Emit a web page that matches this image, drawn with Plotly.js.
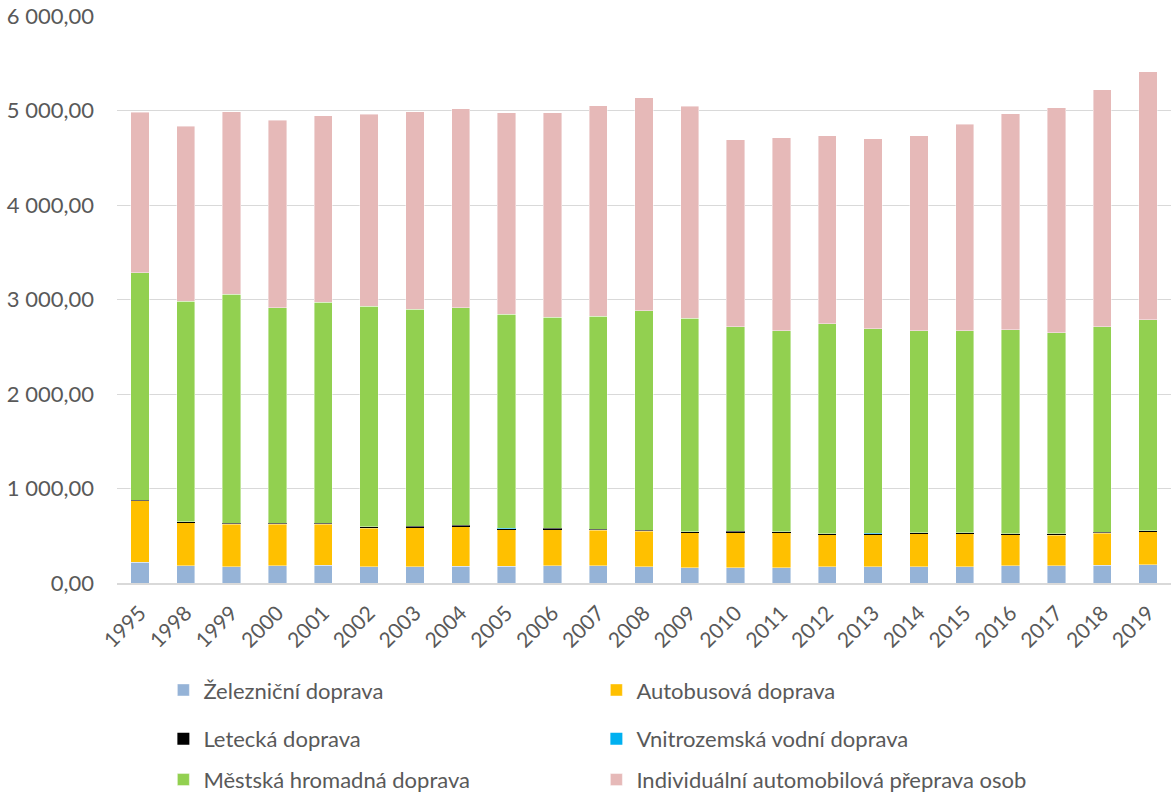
<!DOCTYPE html>
<html>
<head>
<meta charset="utf-8">
<script src="https://cdn.plot.ly/plotly-3.0.1.min.js"></script>
<style>
  html, body { margin: 0; padding: 0; background: #ffffff; }
  #chart { width: 1171px; height: 794px; }
</style>
</head>
<body>
<div id="chart"></div>
<script>
// Years on the category axis
const years = ['1995', '1998', '1999', '2000', '2001', '2002', '2003', '2004', '2005', '2006', '2007', '2008',
               '2009', '2010', '2011', '2012', '2013', '2014', '2015', '2016', '2017', '2018', '2019'];

// Passenger transport performance by mode (stacked)
const rail  = [222, 180, 174, 180, 187, 174, 170, 177, 177, 180, 180, 174, 159, 159, 159, 170, 174, 174, 174, 180, 180, 187, 191];
const bus   = [646, 455, 447, 441, 434, 408, 416, 416, 384, 385, 378, 373, 371, 374, 371, 342, 335, 345, 345, 329, 325, 339, 349];
const air   = [8, 10, 10, 10, 12, 10, 12, 18, 15, 12, 12, 12, 12, 14, 14, 10, 14, 10, 10, 10, 14, 12, 14];
const water = [1, 1, 1, 1, 1, 1, 1, 1, 1, 1, 1, 1, 1, 1, 1, 1, 1, 1, 1, 1, 1, 1, 1];
const urban = [2406, 2336, 2422, 2282, 2337, 2335, 2297, 2302, 2266, 2232, 2250, 2322, 2257, 2162, 2126, 2219, 2165, 2137, 2141, 2162, 2126, 2171, 2230];
const cars  = [1699, 1853, 1932, 1982, 1975, 2033, 2093, 2107, 2132, 2165, 2229, 2254, 2247, 1979, 2039, 1993, 2014, 2068, 2186, 2282, 2383, 2508, 2626];

const seriesNames = ['Železniční doprava', 'Autobusová doprava', 'Letecká doprava',
                     'Vnitrozemská vodní doprava', 'Městská hromadná doprava',
                     'Individuální automobilová přeprava osob'];

const FONT = 'Lato, "Open Sans", sans-serif';
const TEXT = '#595959';

function bar(name, values, color, legendId, edge) {
  return {
    type: 'bar',
    name: name,
    x: years,
    y: values,
    legend: legendId,
    marker: { color: color, line: { width: edge ? 0.6 : 0, color: 'rgba(255,255,255,0.7)' } },
    hoverinfo: 'x+y+name'
  };
}

const data = [
  bar(seriesNames[0], rail,  '#95B3D7', 'legend',  true),
  bar(seriesNames[1], bus,   '#FFC000', 'legend',  true),
  bar(seriesNames[2], air,   '#000000', 'legend2', false),
  bar(seriesNames[3], water, '#00B0F0', 'legend2', false),
  bar(seriesNames[4], urban, '#92D050', 'legend3', true),
  bar(seriesNames[5], cars,  '#E6B9B8', 'legend3', true)
];

// One horizontal legend per row, two entries each
function legendRow(y) {
  return {
    orientation: 'h',
    traceorder: 'normal',
    x: 0.044, xanchor: 'left',
    y: y, yanchor: 'middle',
    entrywidth: 388, entrywidthmode: 'pixels',
    font: { family: FONT, size: 22, color: TEXT },
    bgcolor: 'rgba(0,0,0,0)',
    itemclick: false, itemdoubleclick: false
  };
}

const layout = {
  width: 1171,
  height: 794,
  margin: { l: 117, r: 0, t: 16, b: 211, autoexpand: false },
  paper_bgcolor: '#ffffff',
  plot_bgcolor: '#ffffff',
  barmode: 'stack',
  bargap: 0.6,
  separators: ', ',
  font: { family: FONT, color: TEXT },
  xaxis: {
    type: 'category',
    tickangle: -45,
    tickfont: { family: FONT, size: 21, color: TEXT },
    showgrid: false,
    showline: true,
    linecolor: '#D9D9D9',
    linewidth: 1.5,
    ticks: '',
    ticklabelstandoff: 8,
    fixedrange: true
  },
  yaxis: {
    range: [0, 6000],
    dtick: 1000,
    tick0: 0,
    tickformat: ',.2f',
    tickfont: { family: FONT, size: 22, color: TEXT },
    showgrid: true,
    gridcolor: '#D9D9D9',
    gridwidth: 1,
    zeroline: false,
    showline: false,
    ticks: '',
    ticklabelstandoff: 22,
    fixedrange: true
  },
  showlegend: true,
  legend:  legendRow(-0.189),
  legend2: legendRow(-0.275),
  legend3: legendRow(-0.347)
};

Plotly.newPlot('chart', data, layout, { displayModeBar: false, staticPlot: true });
</script>
</body>
</html>
